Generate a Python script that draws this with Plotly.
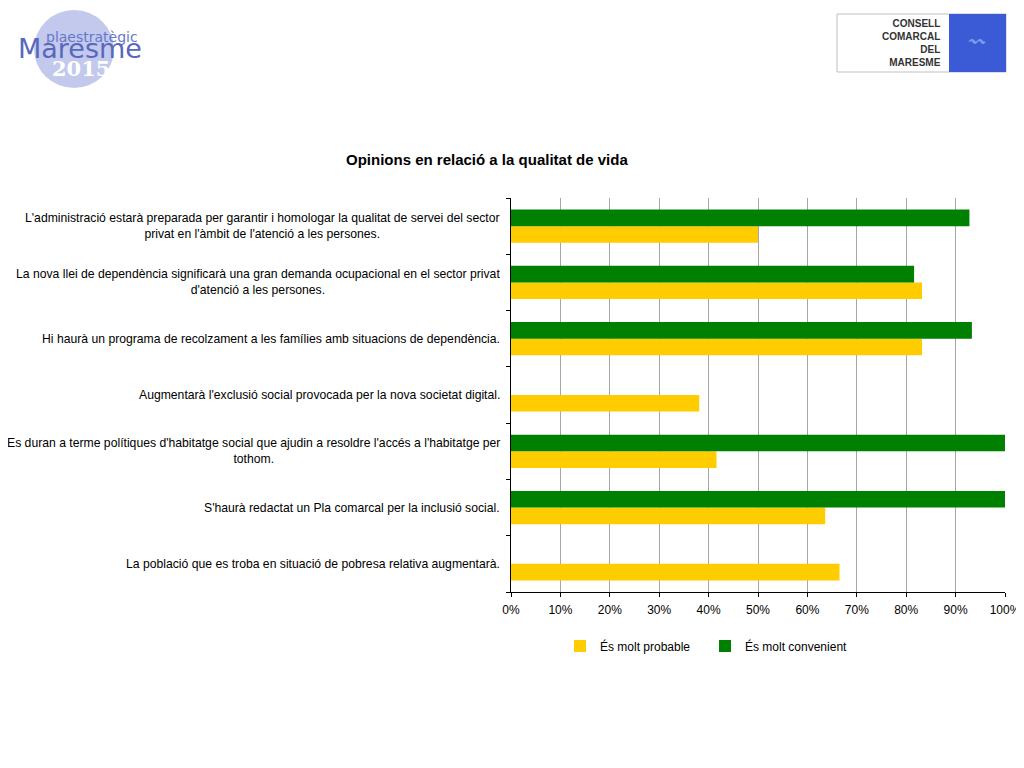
import plotly.graph_objects as go

# Categories listed bottom to top
categories = [
    "La població que es troba en situació de pobresa relativa augmentarà.",
    "S'haurà redactat un Pla comarcal per la inclusió social.",
    "Es duran a terme polítiques d'habitatge social que ajudin a resoldre l'accés a l'habitatge per<br>tothom.",
    "Augmentarà l'exclusió social provocada per la nova societat digital.",
    "Hi haurà un programa de recolzament a les famílies amb situacions de dependència.",
    "La nova llei de dependència significarà una gran demanda ocupacional en el sector privat<br>d'atenció a les persones.",
    "L'administració estarà preparada per garantir i homologar la qualitat de servei del sector<br>privat en l'àmbit de l'atenció a les persones.",
]
molt_probable = [0.665, 0.636, 0.416, 0.381, 0.832, 0.832, 0.50]
molt_convenient = [0.0, 1.0, 1.0, 0.0, 0.933, 0.816, 0.928]
x_ticks = [0, 0.1, 0.2, 0.3, 0.4, 0.5, 0.6, 0.7, 0.8, 0.9, 1.0]
x_tick_labels = ["0%", "10%", "20%", "30%", "40%", "50%", "60%", "70%", "80%", "90%", "100%"]

FONT = "Liberation Sans, Arial, sans-serif"

# page offset of the figure (body margin) in the screenshot
OFF = 8
W, H = 1016, 752
L, R, T, B = 511 - OFF, W - (1005 - OFF), 198 - OFF, H - (592 - OFF)
pw, ph = W - L - R, H - T - B


def px(xp):
    return (xp - OFF - L) / pw


def py(yp):
    return (H - B - (yp - OFF)) / ph


fig = go.Figure()
fig.add_trace(go.Bar(y=categories, x=molt_probable, orientation="h",
                     name="És molt probable", marker=dict(color="#FFCC00", line=dict(width=0))))
fig.add_trace(go.Bar(y=categories, x=molt_convenient, orientation="h",
                     name="És molt convenient", marker=dict(color="#008000", line=dict(width=0))))

annotations = []
for c in categories:
    annotations.append(dict(x=0, xref="paper", xanchor="right", xshift=-9,
                            y=c, yref="y", yanchor="middle", text=c, showarrow=False,
                            align="center", font=dict(family=FONT, size=12.2, color="#000")))

annotations.append(dict(x=px(487), y=py(159), xref="paper", yref="paper",
                        xanchor="center", yanchor="middle",
                        text="<b>Opinions en relació a la qualitat de vida</b>",
                        showarrow=False, font=dict(family=FONT, size=15, color="#000")))

fig.update_layout(
    width=W, height=H,
    margin=dict(l=L, r=R, t=T, b=B, autoexpand=False),
    paper_bgcolor="white", plot_bgcolor="white",
    barmode="group", bargap=0.41, bargroupgap=0,
    showlegend=True,
    legend=dict(orientation="h", x=px(560), xanchor="left", y=py(646), yanchor="middle",
                font=dict(family=FONT, size=12, color="#000"), traceorder="normal",
                itemwidth=30, entrywidth=100),
    xaxis=dict(range=[0, 1], tickvals=x_ticks, ticktext=x_tick_labels,
               showgrid=True, gridcolor="#A6A6A6", gridwidth=1,
               showline=True, linecolor="#000", linewidth=1, automargin=False,
               ticks="outside", ticklen=4, tickcolor="#000", ticklabelstandoff=3,
               tickfont=dict(family=FONT, size=12, color="#000"), zeroline=False, fixedrange=True),
    yaxis=dict(showticklabels=False, showline=True, linecolor="#000", linewidth=1, automargin=False,
               ticks="outside", ticklen=4, tickcolor="#000", tickson="boundaries",
               showgrid=False, zeroline=False, fixedrange=True),
    font=dict(family=FONT),
)

# Logos (decorative)
shapes = [
    dict(type="circle", xref="paper", yref="paper", x0=px(34), x1=px(114), y0=py(10), y1=py(88),
         fillcolor="#C3C9EC", line=dict(width=0), layer="below"),
    dict(type="rect", xref="paper", yref="paper", x0=px(837), x1=px(1006), y0=py(14), y1=py(72),
         fillcolor="white", line=dict(color="#BFBFBF", width=1)),
    dict(type="rect", xref="paper", yref="paper", x0=px(949), x1=px(1006), y0=py(14), y1=py(72),
         fillcolor="#3B5BD6", line=dict(width=0)),
]
annotations += [
    dict(x=px(92), y=py(37), xref="paper", yref="paper", text="plaestratègic", showarrow=False,
         font=dict(family="DejaVu Sans, sans-serif", size=14, color="#6677C8"), xanchor="center", yanchor="middle"),
    dict(x=px(80), y=py(49), xref="paper", yref="paper", text="Maresme", showarrow=False,
         font=dict(family="DejaVu Sans, sans-serif", size=27, color="#5868BE"), xanchor="center", yanchor="middle"),
    dict(x=px(81), y=py(68), xref="paper", yref="paper", text="<b>2015</b>", showarrow=False,
         font=dict(family="DejaVu Serif, serif", size=21, color="white"), xanchor="center", yanchor="middle"),
    dict(x=px(943), y=py(43), xref="paper", yref="paper",
         text="<b>CONSELL<br>COMARCAL<br>DEL<br>MARESME</b>", showarrow=False, align="right",
         font=dict(family=FONT, size=10, color="#333"), xanchor="right", yanchor="middle"),
    dict(x=px(977), y=py(40), xref="paper", yref="paper", text="〰", showarrow=False,
         font=dict(family="DejaVu Sans, sans-serif", size=16, color="#7C9BEA"), xanchor="center", yanchor="middle"),
]

fig.update_layout(annotations=annotations, shapes=shapes)
fig.write_html("out.html")
